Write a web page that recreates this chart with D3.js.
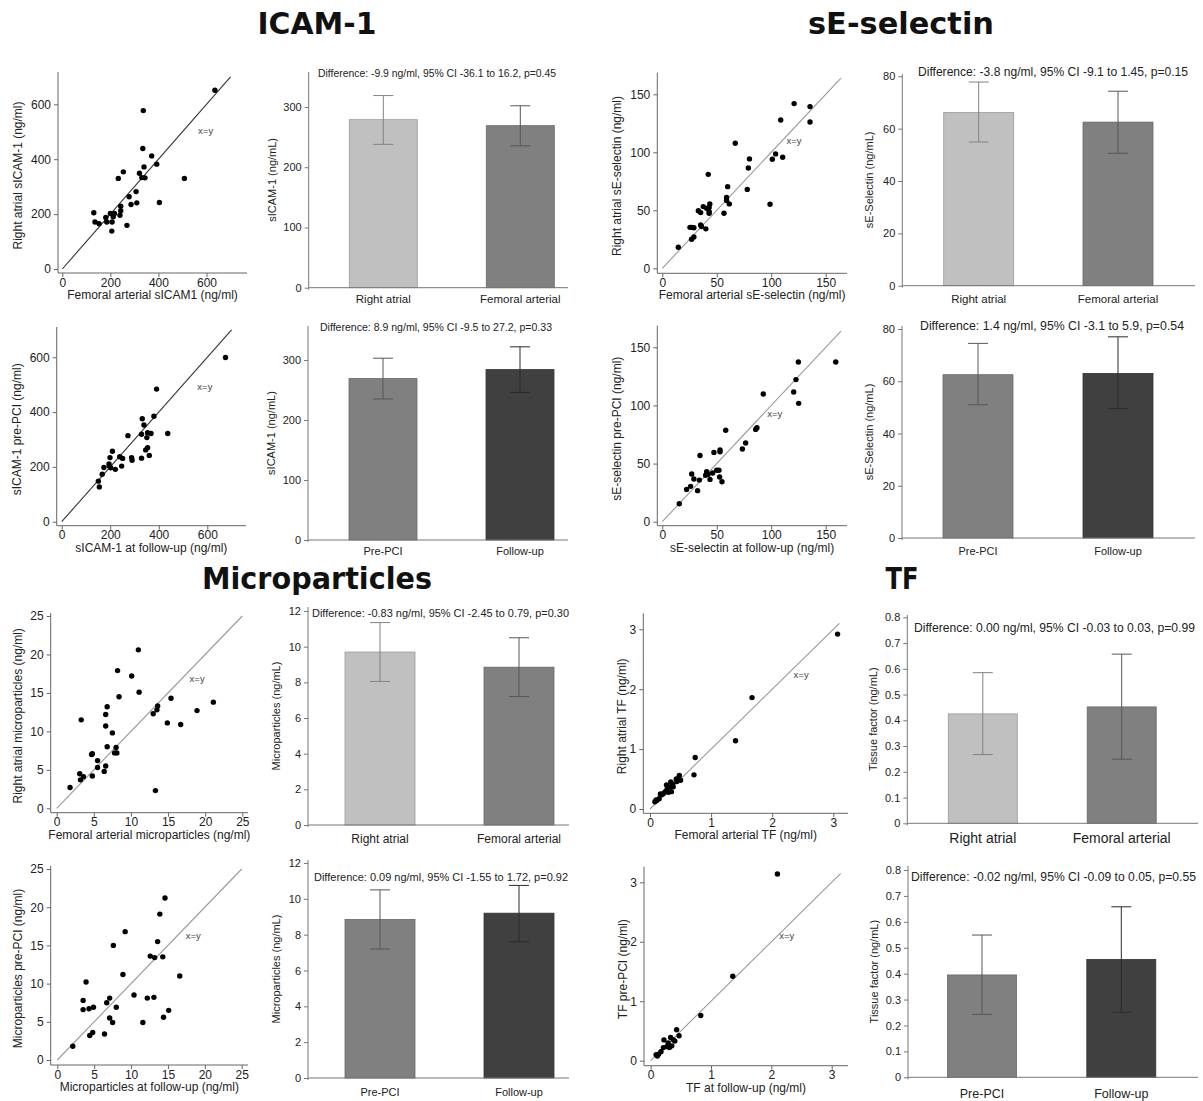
<!DOCTYPE html>
<html>
<head>
<meta charset="utf-8">
<script src="https://cdn.jsdelivr.net/npm/d3@7"></script>
<style>
  body { margin: 0; background: #fff; }
  text { font-family: "Liberation Sans", Arial, sans-serif; }
</style>
</head>
<body>
<script>
// scatter data: [x, y] pairs
const icamSite = [[635,651],[337,577],[335,439],[372,412],[340,372],[393,382],[321,349],[331,333],[344,332],[254,354],[233,330],[508,330],[278,263],[307,282],[310,241],[286,235],[404,242],[243,229],[243,212],[240,196],[200,202],[217,202],[212,190],[181,188],[131,205],[136,171],[153,165],[185,171],[207,171],[206,138],[269,159]];
const icamTime = [[675,599],[391,484],[380,385],[332,376],[339,353],[273,314],[329,319],[354,325],[368,322],[351,307],[437,322],[209,257],[199,234],[239,237],[251,231],[288,234],[290,224],[329,232],[346,262],[354,270],[361,242],[196,203],[195,211],[221,191],[247,203],[174,198],[167,173],[151,148],[155,127],[202,197]];
const selSite = [[14.7,18.1],[25.4,35.3],[27.5,35.3],[29,35],[26.9,25],[29,27],[35.2,37.4],[36,36],[33.1,49.7],[35.2,48],[37.6,53.2],[40.7,51.7],[43,52.5],[40,34],[42.2,81],[43.6,55.5],[43,48.9],[43,47.5],[56.6,47.4],[59,61],[60,70.4],[59,58.5],[61.5,55.5],[67,107.8],[78,68],[79,86.5],[80,94.3],[98.9,55.2],[101,94],[104,98.6],[108.7,127.9],[110.5,95.7],[121,142],[135.6,139.4],[135.6,126.1]];
const selTime = [[15.6,15.5],[22.3,27.8],[26,30.4],[27,41],[29,36.7],[32.4,26.7],[34,35.8],[34.6,57],[39.8,40],[40.7,43],[42,40.7],[43.8,36.4],[46.2,41.9],[47.4,59.6],[49.9,44.2],[52,44.2],[52.6,38.4],[53,60.2],[53,61.7],[54.8,34.4],[58.2,78.6],[73.5,62.5],[76.5,67.7],[85.7,79.4],[86.9,80.9],[92.7,109.8],[120.6,111.6],[122.7,122.2],[124.9,137.4],[125.2,101.8],[159.2,137.4]];
const mpSite = [[11.0,20.6],[8.2,17.9],[10.1,17.2],[8.4,14.5],[11.1,15.1],[6.8,13.2],[6.6,12.2],[6.6,10.7],[3.3,11.5],[7.5,9.8],[6.8,8.0],[8.0,7.9],[7.8,7.2],[8.1,7.2],[4.8,7.1],[4.7,7.0],[5.5,6.2],[5.5,5.3],[6.6,5.5],[6.4,4.8],[4.8,4.2],[3.1,4.5],[3.2,3.7],[3.6,4.1],[1.8,2.7],[13.3,2.3],[13.0,12.3],[13.5,12.8],[13.6,13.3],[15.4,14.3],[14.9,11.1],[16.7,10.9],[18.9,12.7],[21.1,13.8]];
const mpTime = [[14.6,21.2],[13.9,19.1],[9.2,16.8],[7.6,15.0],[13.6,15.5],[12.6,13.6],[13.2,13.4],[14.3,13.5],[8.9,11.2],[3.9,10.2],[16.6,11.0],[10.4,8.5],[12.2,8.1],[13.1,8.2],[7.1,8.1],[6.7,7.5],[3.5,7.8],[3.5,6.6],[4.3,6.7],[4.9,6.9],[8.0,6.9],[7.1,5.5],[7.5,4.9],[11.6,4.9],[14.4,5.6],[15.1,6.5],[4.8,3.6],[4.4,3.2],[6.4,3.4],[2.1,1.8]];
const tfSite = [[3.07,2.92],[1.67,1.86],[1.40,1.14],[0.74,0.86],[0.72,0.57],[0.48,0.56],[0.50,0.48],[0.43,0.50],[0.37,0.42],[0.34,0.45],[0.33,0.37],[0.28,0.33],[0.25,0.29],[0.22,0.26],[0.17,0.25],[0.30,0.28],[0.38,0.37],[0.35,0.29],[0.15,0.17],[0.11,0.14],[0.08,0.12],[0.10,0.15],[0.27,0.40],[0.44,0.46],[0.20,0.24]];
const tfTime = [[2.10,3.14],[1.36,1.42],[0.83,0.76],[0.43,0.52],[0.47,0.42],[0.22,0.35],[0.33,0.39],[0.38,0.35],[0.29,0.30],[0.35,0.25],[0.27,0.24],[0.21,0.22],[0.17,0.15],[0.13,0.11],[0.09,0.10],[0.11,0.08],[0.40,0.33],[0.31,0.22]];

// bar data: means and 95% CI
const siteLabels = ['Right atrial', 'Femoral arterial'];
const timeLabels = ['Pre-PCI', 'Follow-up'];
const icamSiteMean = [279, 269],   icamSiteLo = [238, 235.5],  icamSiteHi = [319, 302];
const icamTimeMean = [269, 284],   icamTimeLo = [235, 246],    icamTimeHi = [303, 322];
const selSiteMean = [66.2, 62.5],  selSiteLo = [54.9, 50.6],   selSiteHi = [77.8, 74.3];
const selTimeMean = [62.5, 63],    selTimeLo = [51, 49.5],     selTimeHi = [74.5, 77];
const mpSiteMean = [9.7, 8.85],    mpSiteLo = [8.05, 7.2],     mpSiteHi = [11.35, 10.5];
const mpTimeMean = [8.85, 9.2],    mpTimeLo = [7.2, 7.6],      mpTimeHi = [10.5, 10.75];
const tfSiteMean = [0.425, 0.452], tfSiteLo = [0.267, 0.249],  tfSiteHi = [0.585, 0.657];
const tfTimeMean = [0.395, 0.455], tfTimeLo = [0.243, 0.251],  tfTimeHi = [0.549, 0.658];

const diffText = [
  'Difference: -9.9 ng/ml, 95% CI -36.1 to 16.2, p=0.45',
  'Difference: -3.8 ng/ml, 95% CI -9.1 to 1.45, p=0.15',
  'Difference: 8.9 ng/ml, 95% CI -9.5 to 27.2, p=0.33',
  'Difference: 1.4 ng/ml, 95% CI -3.1 to 5.9, p=0.54',
  'Difference: -0.83 ng/ml, 95% CI -2.45 to 0.79, p=0.30',
  'Difference: 0.00 ng/ml, 95% CI -0.03 to 0.03, p=0.99',
  'Difference: 0.09 ng/ml, 95% CI -1.55 to 1.72, p=0.92',
  'Difference: -0.02 ng/ml, 95% CI -0.09 to 0.05, p=0.55'
];

// tick values
const icamTicks = [0, 200, 400, 600];
const selTicks = [0, 50, 100, 150];
const mpTicks = [0, 5, 10, 15, 20, 25];
const tfTicks = [0, 1, 2, 3];
const icamBarTicks = [0, 100, 200, 300];
const selBarTicks = [0, 20, 40, 60, 80];
const mpBarTicks = [0, 2, 4, 6, 8, 10, 12];
const tfBarTicks = [0, 0.1, 0.2, 0.3, 0.4, 0.5, 0.6, 0.7, 0.8];

const siteColors = ['#c0c0c0', '#808080'];
const timeColors = ['#808080', '#404040'];

const svg = d3.select('body').append('svg')
  .attr('width', 1203).attr('height', 1101)
  .style('background', '#fff');

// section titles
[['ICAM-1', 317, 34, 119], ['sE-selectin', 901, 34, 186], ['Microparticles', 317, 589, 230], ['TF', 902, 589, 33]]
  .forEach(([t, x, y, w]) => svg.append('text').text(t)
    .attr('x', x).attr('y', y).attr('text-anchor', 'middle')
    .attr('textLength', w).attr('lengthAdjust', 'spacingAndGlyphs')
    .style('font-family', '"DejaVu Sans", Verdana, sans-serif')
    .style('font-weight', 'bold').style('font-size', '30px').attr('fill', '#111'));

function scatter(c) {
  const x = d3.scaleLinear().domain([0, c.xt]).range([c.x0, c.xtp]);
  const y = d3.scaleLinear().domain([0, c.yt]).range([c.y0, c.ytp]);
  const g = svg.append('g');
  const fmt = d => d3.format('~g')(d);

  g.append('g').attr('transform', `translate(0,${c.ay})`)
    .call(d3.axisBottom(x).tickValues(c.ticks).tickSize(4).tickPadding(1).tickFormat(fmt))
    .call(a => a.select('.domain').remove());
  g.append('g').attr('transform', `translate(${c.ax},0)`)
    .call(d3.axisLeft(y).tickValues(c.ticks).tickSize(4).tickPadding(3).tickFormat(fmt))
    .call(a => a.select('.domain').remove());
  g.selectAll('.tick line').attr('stroke', '#666');
  g.selectAll('.tick text').attr('fill', '#222').style('font-size', c.fs + 'px')
    .style('font-family', '"Liberation Sans", Arial, sans-serif');

  g.append('line').attr('x1', c.ax).attr('x2', c.right).attr('y1', c.ay).attr('y2', c.ay).attr('stroke', '#666');
  g.append('line').attr('x1', c.ax).attr('x2', c.ax).attr('y1', c.top).attr('y2', c.ay).attr('stroke', '#666');

  g.append('line')
    .attr('x1', x(0)).attr('y1', y(0)).attr('x2', x(c.lineMax)).attr('y2', y(c.lineMax))
    .attr('stroke', c.lineColor).attr('stroke-width', 1.1);
  g.append('text').text('x=y').attr('x', x(c.lbl[0])).attr('y', y(c.lbl[1]))
    .style('font-size', '9.5px').attr('fill', '#444');

  g.selectAll('circle').data(c.data).enter().append('circle')
    .attr('cx', d => x(d[0])).attr('cy', d => y(d[1])).attr('r', 2.7).attr('fill', '#000');

  g.append('text').text(c.xTitle)
    .attr('x', (c.ax + c.right) / 2).attr('y', c.ay + 26).attr('text-anchor', 'middle')
    .style('font-size', '12px').attr('fill', '#222');
  g.append('text').text(c.yTitle)
    .attr('transform', `translate(${c.ax - c.yOff},${(c.top + c.ay) / 2 + 3}) rotate(-90)`)
    .attr('text-anchor', 'middle').style('font-size', '12px').attr('fill', '#222');
}

function bars(c) {
  const y = d3.scaleLinear().domain([0, c.yt]).range([c.y0, c.ytp]);
  const x = d3.scalePoint().domain(c.labels).range(c.centers);
  const g = svg.append('g');
  const rows = c.labels.map((l, i) => ({l, m: c.mean[i], lo: c.lo[i], hi: c.hi[i], col: c.colors[i]}));

  g.append('g').attr('transform', `translate(${c.ax},0)`)
    .call(d3.axisLeft(y).tickValues(c.ticks).tickSize(4).tickPadding(3).tickFormat(d3.format('~g')))
    .call(a => a.select('.domain').remove());
  g.selectAll('.tick line').attr('stroke', '#777');
  g.selectAll('.tick text').attr('fill', '#222').style('font-size', c.fs + 'px')
    .style('font-family', '"Liberation Sans", Arial, sans-serif');
  g.append('line').attr('x1', c.ax).attr('x2', c.ax).attr('y1', c.top).attr('y2', c.y0 + 2).attr('stroke', '#777');

  g.selectAll('rect').data(rows).enter().append('rect')
    .attr('x', d => x(d.l) - c.bw / 2).attr('width', c.bw)
    .attr('y', d => y(d.m)).attr('height', d => y(0) - y(d.m))
    .attr('fill', d => d.col)
    .attr('stroke', d => d3.color(d.col).darker(0.6)).attr('stroke-width', 0.8);

  g.append('line').attr('x1', c.ax).attr('x2', c.right).attr('y1', c.y0).attr('y2', c.y0).attr('stroke', '#777');

  const eb = g.selectAll('g.eb').data(rows).enter().append('g').attr('class', 'eb')
    .attr('stroke', d => d3.color(d.col).darker(1.1)).attr('stroke-width', 1);
  eb.append('line').attr('x1', d => x(d.l)).attr('x2', d => x(d.l)).attr('y1', d => y(d.lo)).attr('y2', d => y(d.hi));
  eb.append('line').attr('x1', d => x(d.l) - 10).attr('x2', d => x(d.l) + 10).attr('y1', d => y(d.lo)).attr('y2', d => y(d.lo));
  eb.append('line').attr('x1', d => x(d.l) - 10).attr('x2', d => x(d.l) + 10).attr('y1', d => y(d.hi)).attr('y2', d => y(d.hi));

  g.selectAll('text.cat').data(c.labels).enter().append('text').attr('class', 'cat')
    .text(d => d).attr('x', d => x(d)).attr('y', c.labelY).attr('text-anchor', 'middle')
    .style('font-size', c.catFs + 'px').attr('fill', '#222');

  g.append('text').text(c.diff).attr('x', c.tx).attr('y', c.ty)
    .attr('textLength', c.tw).attr('lengthAdjust', 'spacingAndGlyphs')
    .style('font-size', c.tfs + 'px').attr('fill', '#222');

  g.append('text').text(c.yTitle)
    .attr('transform', `translate(${c.ax - c.yOff},${(c.top + c.y0) / 2}) rotate(-90)`)
    .attr('text-anchor', 'middle').style('font-size', '11px').attr('fill', '#222');
}

// scatter panels
scatter({data: icamSite, ticks: icamTicks, xt: 600, yt: 600, x0: 62.3, xtp: 206.5, y0: 269, ytp: 104.3,
  ax: 58, ay: 273, top: 72, right: 247, lineMax: 700, lineColor: '#333', lbl: [565, 491], fs: 12, yOff: 36,
  xTitle: 'Femoral arterial sICAM1 (ng/ml)', yTitle: 'Right atrial sICAM-1 (ng/ml)'});
scatter({data: icamTime, ticks: icamTicks, xt: 600, yt: 600, x0: 61.7, xtp: 207.3, y0: 521.7, ytp: 357.3,
  ax: 56.7, ay: 525.7, top: 327, right: 246, lineMax: 700, lineColor: '#333', lbl: [559, 481], fs: 12, yOff: 36,
  xTitle: 'sICAM-1 at follow-up (ng/ml)', yTitle: 'sICAM-1 pre-PCI (ng/ml)'});
scatter({data: selSite, ticks: selTicks, xt: 150, yt: 150, x0: 662.3, xtp: 825.7, y0: 268.3, ytp: 94.3,
  ax: 657.3, ay: 273.3, top: 72.7, right: 847, lineMax: 164, lineColor: '#999', lbl: [114, 107], fs: 12, yOff: 36,
  xTitle: 'Femoral arterial sE-selectin (ng/ml)', yTitle: 'Right atrial sE-selectin (ng/ml)'});
scatter({data: selTime, ticks: selTicks, xt: 150, yt: 150, x0: 662.3, xtp: 825.7, y0: 521.7, ytp: 347.3,
  ax: 657.3, ay: 525.7, top: 325.7, right: 847, lineMax: 164, lineColor: '#999', lbl: [96.4, 90], fs: 12, yOff: 36,
  xTitle: 'sE-selectin at follow-up (ng/ml)', yTitle: 'sE-selectin pre-PCI (ng/ml)'});
scatter({data: mpSite, ticks: mpTicks, xt: 25, yt: 25, x0: 56.7, xtp: 242.3, y0: 808.3, ytp: 616,
  ax: 50.7, ay: 812.7, top: 613, right: 248, lineMax: 25, lineColor: '#999', lbl: [17.9, 16.4], fs: 12, yOff: 29,
  xTitle: 'Femoral arterial microparticles (ng/ml)', yTitle: 'Right atrial microparticles (ng/ml)'});
scatter({data: mpTime, ticks: mpTicks, xt: 25, yt: 25, x0: 57.3, xtp: 241.7, y0: 1060, ytp: 869,
  ax: 50.7, ay: 1065, top: 866, right: 248, lineMax: 25, lineColor: '#999', lbl: [17.4, 15.9], fs: 12, yOff: 29,
  xTitle: 'Microparticles at follow-up (ng/ml)', yTitle: 'Microparticles pre-PCI (ng/ml)'});
scatter({data: tfSite, ticks: tfTicks, xt: 3, yt: 3, x0: 650, xtp: 833.3, y0: 809, ytp: 629.3,
  ax: 643.3, ay: 813.3, top: 613.3, right: 848, lineMax: 3.1, lineColor: '#999', lbl: [2.35, 2.18], fs: 12, yOff: 17,
  xTitle: 'Femoral arterial TF (ng/ml)', yTitle: 'Right atrial TF (ng/ml)'});
scatter({data: tfTime, ticks: tfTicks, xt: 3, yt: 3, x0: 650.7, xtp: 831.7, y0: 1060.7, ytp: 882.3,
  ax: 644, ay: 1065.7, top: 866.7, right: 848, lineMax: 3.15, lineColor: '#999', lbl: [2.13, 2.04], fs: 12, yOff: 17,
  xTitle: 'TF at follow-up (ng/ml)', yTitle: 'TF pre-PCI (ng/ml)'});

// bar panels
bars({labels: siteLabels, mean: icamSiteMean, lo: icamSiteLo, hi: icamSiteHi, colors: siteColors, ticks: icamBarTicks,
  yt: 300, y0: 287.7, ytp: 107, ax: 308.7, top: 72, right: 568, centers: [383.3, 520.3], bw: 68,
  labelY: 303, catFs: 11.5, diff: diffText[0], tx: 318, ty: 77, tw: 238, tfs: 10.5, fs: 11, yOff: 33, yTitle: 'sICAM-1 (ng/mL)'});
bars({labels: siteLabels, mean: selSiteMean, lo: selSiteLo, hi: selSiteHi, colors: siteColors, ticks: selBarTicks,
  yt: 80, y0: 285.7, ytp: 76.3, ax: 902.3, top: 74, right: 1195, centers: [978.7, 1118], bw: 70,
  labelY: 303, catFs: 11.5, diff: diffText[1], tx: 918, ty: 76, tw: 270, tfs: 12, fs: 11, yOff: 29, yTitle: 'sE-Selectin (ng/mL)'});
bars({labels: timeLabels, mean: icamTimeMean, lo: icamTimeLo, hi: icamTimeHi, colors: timeColors, ticks: icamBarTicks,
  yt: 300, y0: 540, ytp: 360, ax: 308, top: 326, right: 568, centers: [383, 520], bw: 68,
  labelY: 555, catFs: 11, diff: diffText[2], tx: 320, ty: 331, tw: 232, tfs: 10.5, fs: 11, yOff: 33, yTitle: 'sICAM-1 (ng/mL)'});
bars({labels: timeLabels, mean: selTimeMean, lo: selTimeLo, hi: selTimeHi, colors: timeColors, ticks: selBarTicks,
  yt: 80, y0: 538, ytp: 329, ax: 902, top: 326, right: 1195, centers: [978, 1118], bw: 70,
  labelY: 555, catFs: 11, diff: diffText[3], tx: 920, ty: 330, tw: 264, tfs: 12, fs: 11, yOff: 29, yTitle: 'sE-Selectin (ng/mL)'});
bars({labels: siteLabels, mean: mpSiteMean, lo: mpSiteLo, hi: mpSiteHi, colors: siteColors, ticks: mpBarTicks,
  yt: 12, y0: 825, ytp: 611, ax: 308, top: 607, right: 569, centers: [380, 519], bw: 70,
  labelY: 843, catFs: 12, diff: diffText[4], tx: 312, ty: 617, tw: 257, tfs: 11, fs: 11, yOff: 28, yTitle: 'Microparticles (ng/mL)'});
bars({labels: siteLabels, mean: tfSiteMean, lo: tfSiteLo, hi: tfSiteHi, colors: siteColors, ticks: tfBarTicks,
  yt: 0.8, y0: 823.3, ytp: 617.3, ax: 907.3, top: 615, right: 1198, centers: [982.8, 1121.7], bw: 69,
  labelY: 843, catFs: 14, diff: diffText[5], tx: 914, ty: 632, tw: 281, tfs: 12, fs: 11, yOff: 30, yTitle: 'Tissue factor  (ng/mL)'});
bars({labels: timeLabels, mean: mpTimeMean, lo: mpTimeLo, hi: mpTimeHi, colors: timeColors, ticks: mpBarTicks,
  yt: 12, y0: 1078, ytp: 863, ax: 308, top: 860, right: 569, centers: [380, 519], bw: 70,
  labelY: 1096, catFs: 11, diff: diffText[6], tx: 314, ty: 881, tw: 254, tfs: 11, fs: 11, yOff: 28, yTitle: 'Microparticles (ng/mL)'});
bars({labels: timeLabels, mean: tfTimeMean, lo: tfTimeLo, hi: tfTimeHi, colors: timeColors, ticks: tfBarTicks,
  yt: 0.8, y0: 1077.3, ytp: 870, ax: 908, top: 866, right: 1198, centers: [982, 1121.3], bw: 69,
  labelY: 1098, catFs: 12.5, diff: diffText[7], tx: 911, ty: 881, tw: 285, tfs: 12, fs: 11, yOff: 30, yTitle: 'Tissue factor (ng/mL)'});
</script>
</body>
</html>
